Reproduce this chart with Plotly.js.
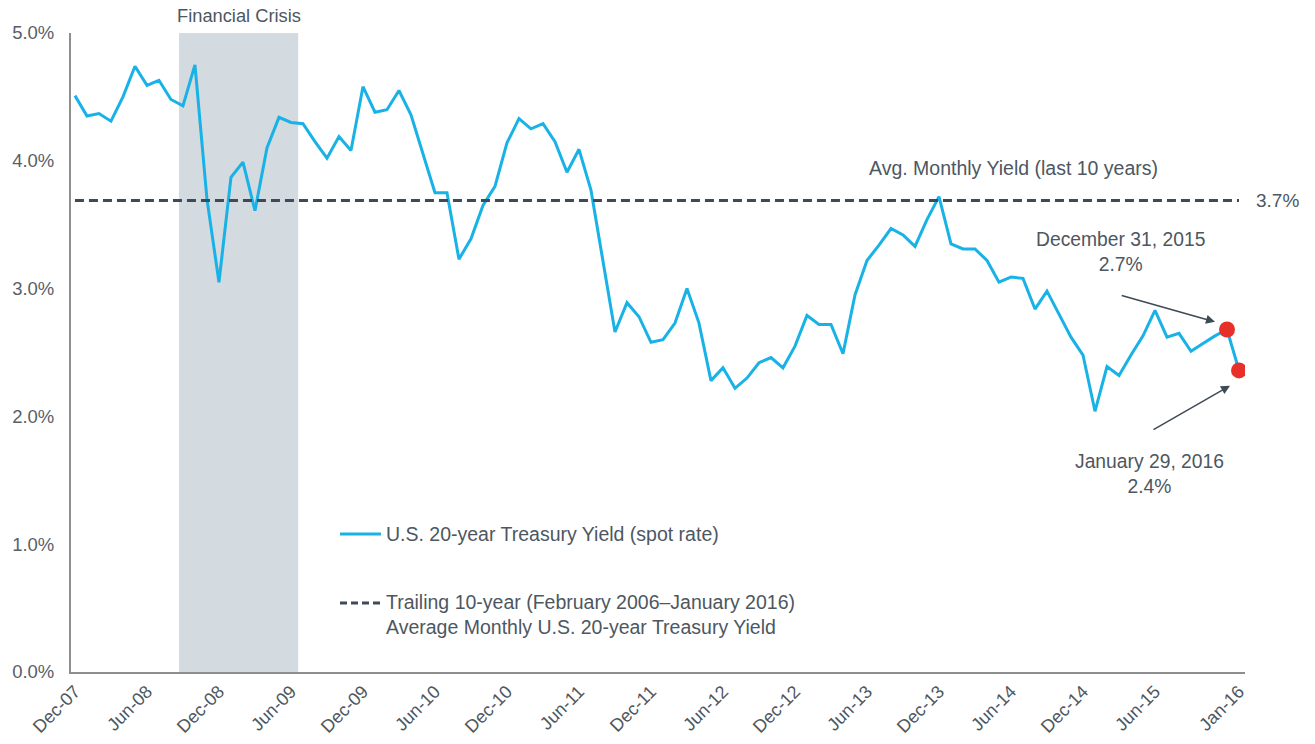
<!DOCTYPE html>
<html>
<head>
<meta charset="utf-8">
<script src="https://cdn.plot.ly/plotly-3.0.1.min.js"></script>
<style>
  html, body { margin: 0; padding: 0; background: #ffffff; }
  #chart { width: 1315px; height: 744px; }
</style>
</head>
<body>
<div id="chart"></div>
<script>
// Monthly U.S. 20-year Treasury yield (%), Dec-2007 .. Jan-2016
const yieldValues = [
  4.51, 4.35, 4.37, 4.31, 4.50, 4.74, 4.59, 4.63, 4.48, 4.43, 4.75, 3.70,
  3.05, 3.87, 3.99, 3.61, 4.10, 4.34, 4.30, 4.29, 4.15, 4.02, 4.19, 4.08,
  4.58, 4.38, 4.40, 4.55, 4.36, 4.05, 3.75, 3.75, 3.23, 3.39, 3.65, 3.80,
  4.14, 4.33, 4.25, 4.29, 4.15, 3.91, 4.09, 3.77, 3.21, 2.66, 2.89, 2.78,
  2.58, 2.60, 2.73, 3.00, 2.73, 2.28, 2.38, 2.22, 2.30, 2.42, 2.46, 2.38,
  2.55, 2.79, 2.72, 2.72, 2.49, 2.95, 3.22, 3.34, 3.47, 3.42, 3.33, 3.54,
  3.72, 3.35, 3.31, 3.31, 3.22, 3.05, 3.09, 3.08, 2.84, 2.98, 2.80, 2.62,
  2.48, 2.04, 2.39, 2.32, 2.48, 2.63, 2.83, 2.62, 2.65, 2.51, 2.57, 2.63,
  2.68, 2.36
];
// month index 0 = Dec-07
const monthIndex = yieldValues.map((v, i) => i);

const tickPositions = [0, 6, 12, 18, 24, 30, 36, 42, 48, 54, 60, 66, 72, 78, 84, 90, 97];
const tickLabels = ["Dec-07", "Jun-08", "Dec-08", "Jun-09", "Dec-09", "Jun-10", "Dec-10", "Jun-11",
  "Dec-11", "Jun-12", "Dec-12", "Jun-13", "Dec-13", "Jun-14", "Dec-14", "Jun-15", "Jan-16"];
const yTickValues = [0, 1, 2, 3, 4, 5];
const yTickLabels = ["0.0%", "1.0%", "2.0%", "3.0%", "4.0%", "5.0%"];

const avgYield = 3.69;          // trailing 10-year average
const avgSpan = [0, 97];
const highlightIdx = [96, 97];  // Dec-31-2015, Jan-29-2016
const crisisStart = 8.67, crisisEnd = 18.6;

const FONT = "Liberation Sans, Arial, sans-serif";
const TXT = "#4d5761";
const DARK = "#3e4a56";
const BLUE = "#18b2e6";

const traces = [
  {
    x: monthIndex, y: yieldValues, type: "scatter", mode: "lines",
    name: "U.S. 20-year Treasury Yield (spot rate)",
    line: { color: BLUE, width: 3 }, showlegend: false, hoverinfo: "x+y"
  },
  {
    x: avgSpan, y: [avgYield, avgYield], type: "scatter", mode: "lines",
    name: "Trailing 10-year Average Monthly U.S. 20-year Treasury Yield",
    line: { color: DARK, width: 3, dash: "9px,5px" }, showlegend: false
  },
  {
    x: highlightIdx, y: highlightIdx.map(i => yieldValues[i]), type: "scatter", mode: "markers",
    marker: { color: "#e8302a", size: 16 }, showlegend: false
  }
];

const L = 71, R = 1245, T = 33, B = 672;
const px = v => (v - L) / (R - L);
const py = v => (B - v) / (B - T);

const layout = {
  width: 1315, height: 744,
  margin: { l: L, r: 1315 - R, t: T, b: 744 - B },
  paper_bgcolor: "#ffffff", plot_bgcolor: "#ffffff",
  font: { family: FONT, size: 19, color: TXT },
  showlegend: false,
  xaxis: {
    range: [-0.33, 97.5], showgrid: false, zeroline: false,
    showline: true, linecolor: "#8e8e8e", linewidth: 2,
    tickmode: "array", tickvals: tickPositions, ticktext: tickLabels,
    tickangle: -45, ticks: "", tickfont: { family: FONT, size: 18, color: TXT }
  },
  yaxis: {
    range: [0, 5], showgrid: false, zeroline: false,
    showline: true, linecolor: "#8e8e8e", linewidth: 2,
    tickmode: "array", tickvals: yTickValues, ticktext: yTickLabels,
    ticks: "", ticklabelstandoff: 11,
    tickfont: { family: FONT, size: 18.5, color: "#595f66" }
  },
  shapes: [
    { type: "rect", xref: "x", yref: "y", x0: crisisStart, x1: crisisEnd, y0: 0, y1: 5,
      fillcolor: "#d3dae0", line: { width: 0 }, layer: "below" },
    // manual legend symbols
    { type: "line", xref: "paper", yref: "paper", x0: px(340), x1: px(381), y0: py(534), y1: py(534),
      line: { color: BLUE, width: 3 } },
    { type: "line", xref: "paper", yref: "paper", x0: px(340), x1: px(383), y0: py(603), y1: py(603),
      line: { color: DARK, width: 3, dash: "7px,4px" } }
  ],
  annotations: [
    { text: "Financial Crisis", xref: "x", yref: "paper", x: (crisisStart + crisisEnd) / 2, y: py(15),
      showarrow: false, xanchor: "center", yanchor: "middle", font: { size: 18.3, color: TXT } },
    { text: "Avg. Monthly Yield (last 10 years)", xref: "x", yref: "y", x: 78.2, y: 3.94,
      showarrow: false, xanchor: "center", yanchor: "middle", font: { size: 19.5, color: TXT } },
    { text: "3.7%", xref: "paper", yref: "y", x: px(1254), y: avgYield,
      showarrow: false, xanchor: "left", yanchor: "middle", font: { size: 19, color: TXT } },
    { text: "December 31, 2015<br>2.7%", xref: "x", yref: "y", x: 87.1, y: 3.29,
      showarrow: false, xanchor: "center", yanchor: "middle", align: "center", font: { size: 19.3, color: TXT } },
    { text: "January 29, 2016<br>2.4%", xref: "x", yref: "y", x: 89.5, y: 1.55,
      showarrow: false, xanchor: "center", yanchor: "middle", align: "center", font: { size: 19.3, color: TXT } },
    // arrows
    { text: "", xref: "x", yref: "y", axref: "x", ayref: "y", x: 95.0, y: 2.74, ax: 87.1, ay: 2.95,
      showarrow: true, arrowhead: 2, arrowsize: 1.2, arrowwidth: 1.5, arrowcolor: DARK, standoff: 0 },
    { text: "", xref: "x", yref: "y", axref: "x", ayref: "y", x: 96.25, y: 2.24, ax: 89.75, ay: 1.89,
      showarrow: true, arrowhead: 2, arrowsize: 1.2, arrowwidth: 1.5, arrowcolor: DARK, standoff: 0 },
    // manual legend text
    { text: "U.S. 20-year Treasury Yield (spot rate)", xref: "paper", yref: "paper", x: px(384), y: py(534),
      showarrow: false, xanchor: "left", yanchor: "middle", font: { size: 19.5, color: TXT } },
    { text: "Trailing 10-year (February 2006–January 2016)<br>Average Monthly U.S. 20-year Treasury Yield",
      xref: "paper", yref: "paper", x: px(384), y: py(614.5),
      showarrow: false, xanchor: "left", yanchor: "middle", align: "left", font: { size: 19.5, color: TXT } }
  ]
};

Plotly.newPlot("chart", traces, layout, { displayModeBar: false, staticPlot: true });
</script>
</body>
</html>
